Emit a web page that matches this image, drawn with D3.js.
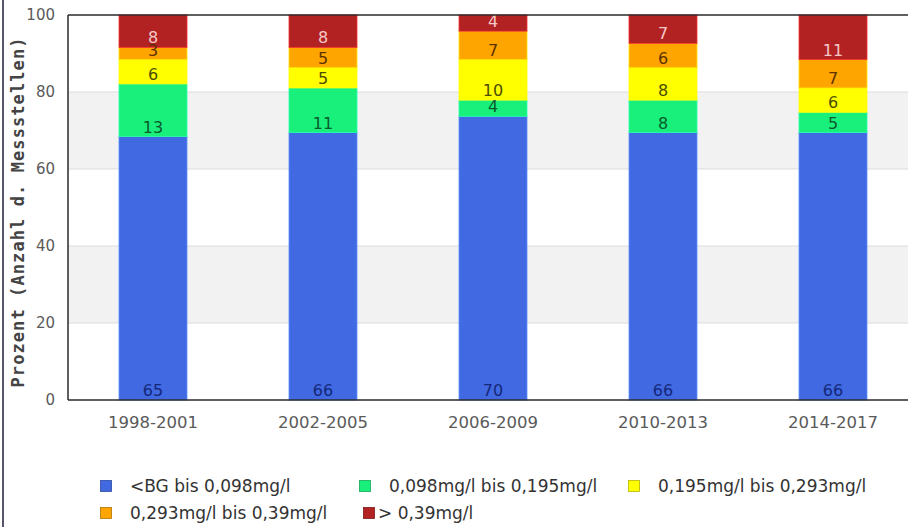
<!DOCTYPE html>
<html>
<head>
<meta charset="utf-8">
<script src="https://cdn.jsdelivr.net/npm/d3@7"></script>
<style>
  body { margin: 0; background: #fff; }
  svg { display: block; font-family: "DejaVu Sans", sans-serif; }
</style>
</head>
<body>
<div id="viz_chart"></div>
<script>
// data (counts per Messstellen-class, stacked as percent)
var categories = ['1998-2001', '2002-2005', '2006-2009', '2010-2013', '2014-2017'];
var seriesNames = ['<BG bis 0,098mg/l', '0,098mg/l bis 0,195mg/l', '0,195mg/l bis 0,293mg/l',
                   '0,293mg/l bis 0,39mg/l', '> 0,39mg/l'];
var belowBG = [65, 66, 70, 66, 66];
var range1 = [13, 11, 4, 8, 5];
var range2 = [6, 5, 10, 8, 6];
var range3 = [3, 5, 7, 6, 7];
var above039 = [8, 8, 4, 7, 11];
var yTicks = [0, 20, 40, 60, 80, 100];

var colors = ['#4169e1', '#19f07c', '#ffff00', '#ffa500', '#b22222'];
var labelColors = ['#14287a', '#0b5a2c', '#4d4d00', '#5c3200', '#f5c8c8'];

var width_svg = 908, height_svg = 527;
var margin = {left: 68, top: 15, bottom: 127};
var plotRight = 918; // plot runs past the right edge in the original

var series = [belowBG, range1, range2, range3, above039];
var rows = categories.map(function(c, i) {
    var r = {cat: c};
    series.forEach(function(s, k) { r['s' + k] = s[i]; });
    return r;
});

var stack = d3.stack()
    .keys(series.map(function(s, k) { return 's' + k; }))
    .offset(d3.stackOffsetExpand);
var stacked = stack(rows);

var svg = d3.select('#viz_chart')
    .append('svg')
    .attr('width', width_svg)
    .attr('height', height_svg);

var x = d3.scaleBand()
    .domain(categories)
    .range([margin.left, plotRight])
    .paddingInner(0.6)
    .paddingOuter(0.3);

var y = d3.scaleLinear()
    .domain([0, 100])
    .range([height_svg - margin.bottom, margin.top]);

// left frame line
svg.append('line')
    .attr('x1', 3).attr('x2', 3)
    .attr('y1', 0).attr('y2', height_svg)
    .attr('stroke', '#1c1c3c')
    .attr('stroke-width', 1.5);

// alternating bands
var bands = d3.pairs(yTicks).filter(function(d, i) { return i % 2 == 1; });
svg.append('g').selectAll('rect')
    .data(bands)
    .join('rect')
    .attr('x', margin.left)
    .attr('width', plotRight - margin.left)
    .attr('y', function(d) { return y(d[1]); })
    .attr('height', function(d) { return y(d[0]) - y(d[1]); })
    .attr('fill', '#f2f2f2');

// grid lines
svg.append('g').selectAll('line')
    .data(yTicks.slice(1, -1))
    .join('line')
    .attr('x1', margin.left).attr('x2', plotRight)
    .attr('y1', function(d) { return y(d); })
    .attr('y2', function(d) { return y(d); })
    .attr('stroke', '#dcdcdc');

// bars
var layer = svg.append('g').selectAll('g')
    .data(stacked)
    .join('g')
    .attr('fill', function(d, k) { return colors[k]; })
    .attr('stroke', function(d, k) { return d3.color(colors[k]).brighter(0.9); });

layer.selectAll('rect')
    .data(function(d) { return d; })
    .join('rect')
    .attr('x', function(d) { return x(d.data.cat); })
    .attr('width', x.bandwidth())
    .attr('y', function(d) { return y(d[1] * 100); })
    .attr('height', function(d) { return y(d[0] * 100) - y(d[1] * 100); })
    .attr('stroke-width', 0.8);

// value labels, sitting at the bottom of each segment
var labels = svg.append('g')
    .attr('text-anchor', 'middle')
    .style('font-size', '16px');
stacked.forEach(function(s, k) {
    labels.append('g').selectAll('text')
        .data(s)
        .join('text')
        .attr('x', function(d) { return x(d.data.cat) + x.bandwidth() / 2; })
        .attr('y', function(d) { return y(d[0] * 100) - 4; })
        .attr('fill', labelColors[k])
        .text(function(d) { return d.data['s' + k]; });
});

// axes frame
var axisColor = '#2a2a2a';
svg.append('line')
    .attr('x1', margin.left).attr('x2', plotRight)
    .attr('y1', y(100)).attr('y2', y(100))
    .attr('stroke', axisColor).attr('stroke-width', 1.5);
svg.append('line')
    .attr('x1', margin.left).attr('x2', plotRight)
    .attr('y1', y(0)).attr('y2', y(0))
    .attr('stroke', axisColor).attr('stroke-width', 1.5);
svg.append('line')
    .attr('x1', margin.left).attr('x2', margin.left)
    .attr('y1', y(0)).attr('y2', y(100))
    .attr('stroke', axisColor).attr('stroke-width', 1.5);

// y tick labels
svg.append('g').selectAll('text')
    .data(yTicks)
    .join('text')
    .attr('x', 55)
    .attr('y', function(d) { return y(d); })
    .attr('dy', '0.35em')
    .attr('text-anchor', 'end')
    .attr('fill', '#5a5a5a')
    .style('font-size', '15px')
    .text(function(d) { return d; });

// x tick labels
svg.append('g').selectAll('text')
    .data(categories)
    .join('text')
    .attr('x', function(d) { return x(d) + x.bandwidth() / 2; })
    .attr('y', 428)
    .attr('text-anchor', 'middle')
    .attr('fill', '#5a5a5a')
    .style('font-size', '16.5px')
    .text(function(d) { return d; });

// y axis title
svg.append('text')
    .attr('transform', 'translate(24,' + ((y(0) + y(100)) / 2 + 5) + ') rotate(-90)')
    .attr('text-anchor', 'middle')
    .attr('fill', '#444')
    .attr('textLength', 350)
    .attr('lengthAdjust', 'spacing')
    .style('font-family', '"DejaVu Sans Mono", monospace')
    .style('font-weight', 'bold')
    .style('font-size', '17px')
    .text('Prozent (Anzahl d. Messstellen)');

// legend
var legendPos = [[100, 486], [359, 486], [628, 486], [100, 513], [363, 513]];
var legend = svg.append('g').selectAll('g')
    .data(seriesNames)
    .join('g')
    .attr('transform', function(d, i) { return 'translate(' + legendPos[i][0] + ',' + legendPos[i][1] + ')'; });

legend.append('rect')
    .attr('x', 0.5).attr('y', -5.5)
    .attr('width', 11).attr('height', 11)
    .attr('fill', function(d, i) { return colors[i]; })
    .attr('stroke', function(d, i) { return d3.color(colors[i]).darker(1); })
    .attr('stroke-width', 0.8);

legend.append('text')
    .attr('x', function(d, i) { return i == 4 ? 15 : 30; })
    .attr('dy', '0.35em')
    .attr('fill', '#333')
    .style('font-size', '17px')
    .text(function(d) { return d; });
</script>
</body>
</html>
